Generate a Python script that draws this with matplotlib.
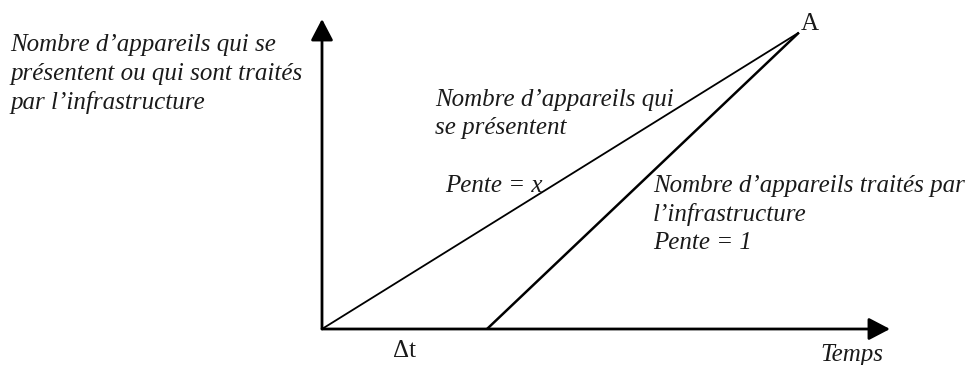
import matplotlib
matplotlib.use("Agg")
import matplotlib.pyplot as plt

t_A = 10.0          # instant du point A
delta_t = 3.46      # décalage Δt
y_A = t_A - delta_t # pente = 1 pour la droite traitée
arrivals_t = [0.0, t_A]
arrivals_y = [0.0, y_A]
treated_t = [delta_t, t_A]
treated_y = [0.0, y_A]
x_max = 11.91
y_max = 6.84

W, H = 975, 365
fig = plt.figure(figsize=(W / 100, H / 100), dpi=100)
ax = fig.add_axes([322 / W, 1 - 329 / H, (890 - 322) / W, (329 - 19) / H])
ax.set_xlim(0, x_max)
ax.set_ylim(0, y_max)
ax.axis("off")

ax.plot(arrivals_t, arrivals_y, color="black", lw=1.3, solid_capstyle="butt")
ax.plot(treated_t, treated_y, color="black", lw=1.8, solid_capstyle="butt")

arrow = dict(arrowstyle="-|>,head_length=0.65,head_width=0.34", color="black",
             lw=2.0, mutation_scale=20, shrinkA=0, shrinkB=0)
ax.annotate("", xy=(x_max, 0), xytext=(0, 0), xycoords="data", arrowprops=arrow,
            annotation_clip=False)
ax.annotate("", xy=(0, y_max), xytext=(0, 0), xycoords="data", arrowprops=arrow,
            annotation_clip=False)

serif = "Liberation Serif"
fs = 18


def txt(px, py, s, style="italic", size=fs, ha="left"):
    fig.text(px / W, 1 - py / H, s, fontsize=size, family=serif, style=style,
             ha=ha, va="center", color="#1a1a1a")


txt(10, 45, "Nombre d’appareils qui se")
txt(10, 74, "présentent ou qui sont traités")
txt(10, 103, "par l’infrastructure")

txt(435, 100, "Nombre d’appareils qui")
txt(435, 128, "se présentent")
txt(445, 186, "Pente = x")

txt(653, 186, "Nombre d’appareils traités par")
txt(653, 215, "l’infrastructure")
txt(653, 243, "Pente = 1")

txt(393, 351, "Δt", style="normal")
txt(820, 355, "Temps")
txt(801, 24, "A", style="normal")

fig.savefig("out.png", dpi=100, facecolor="white")
